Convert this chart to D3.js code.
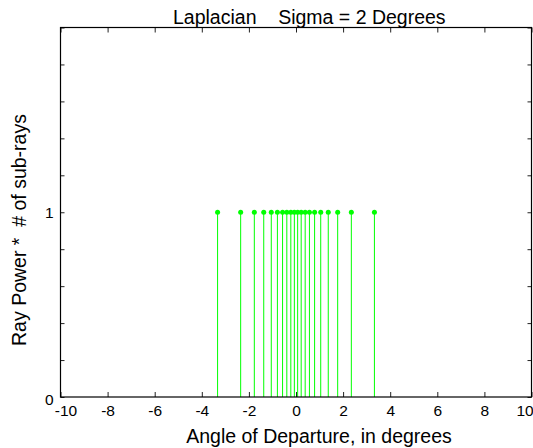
<!DOCTYPE html>
<html><head><meta charset="utf-8">
<script src="https://cdn.jsdelivr.net/npm/d3@7"></script>
<style>
body{margin:0;background:#fff;}
svg{display:block;font-family:"Liberation Sans",Arial,sans-serif;}
</style></head><body>
<svg id="c" width="533" height="448"></svg>
<script>
const angles = [-3.33, -2.35, -1.77, -1.37, -1.05, -0.79, -0.57, -0.39, -0.22, -0.07,
                 0.07, 0.22, 0.39, 0.57, 0.79, 1.05, 1.37, 1.77, 2.35, 3.33];
const powers = [1,1,1,1,1,1,1,1,1,1,1,1,1,1,1,1,1,1,1,1];
const xTicks = [-10,-8,-6,-4,-2,0,2,4,6,8,10];
const xTickLabels = ["-10","-8","-6","-4","-2","0","2","4","6","8","10"];
const yTicks = [0,0.2,0.4,0.6,0.8,1,1.2,1.4,1.6,1.8,2];
const yTickLabels = ["0","","","","","1","","","","",""];
const titleText = "Laplacian    Sigma = 2 Degrees";
const xLabel = "Angle of Departure, in degrees";
const yLabel = "Ray Power *  # of sub-rays";

const L=60.5, R=531.5, T=27.5, B=397;
const svg = d3.select("#c");
const x = d3.scaleLinear().domain([-10,10]).range([L,R]);
const y = d3.scaleLinear().domain([0,2]).range([B,T]);

// stems
const g = svg.append("g");
g.selectAll("line.stem").data(angles).join("line")
  .attr("x1",d=>x(d)).attr("x2",d=>x(d))
  .attr("y1",y(0)).attr("y2",(d,i)=>y(powers[i]))
  .attr("stroke","#00ff00").attr("stroke-width",1);
g.selectAll("circle").data(angles).join("circle")
  .attr("cx",d=>x(d)).attr("cy",(d,i)=>y(powers[i])).attr("r",2.5)
  .attr("fill","#00ff00");

// axes (ticks inward)
const tickLen = 5;
const xb = svg.append("g").attr("transform",`translate(0,${B})`)
  .call(d3.axisBottom(x).tickValues(xTicks).tickSize(-tickLen).tickPadding(8)
    .tickFormat((d,i)=>xTickLabels[i]));
const xt = svg.append("g").attr("transform",`translate(0,${T})`)
  .call(d3.axisTop(x).tickValues(xTicks).tickSize(-tickLen).tickFormat(""));
const yl = svg.append("g").attr("transform",`translate(${L},0)`)
  .call(d3.axisLeft(y).tickValues(yTicks).tickSize(-4).tickPadding(7)
    .tickFormat((d,i)=>yTickLabels[i]));
const yr = svg.append("g").attr("transform",`translate(${R},0)`)
  .call(d3.axisRight(y).tickValues(yTicks).tickSize(-4).tickFormat(""));
[xb,xt,yl,yr].forEach(a=>{
  a.select(".domain").remove();
  a.selectAll(".tick line").attr("stroke","#222").attr("stroke-width",1);
  a.selectAll("text").attr("fill","#000").style("font-size","15.5px")
   .style("font-family","'Liberation Sans',Arial,sans-serif");
});
xb.selectAll(".tick text").attr("dy","0.71em")
  .attr("dx",d=>d===-10?5:(d===10?-7:0));
yl.selectAll(".tick text").attr("dy",d=>d===0?"0.5em":"0.32em");

// box
svg.append("rect").attr("x",L).attr("y",T).attr("width",R-L).attr("height",B-T)
  .attr("fill","none").attr("stroke","#000").attr("stroke-width",1.2);

// labels
svg.append("text").attr("x",173).attr("y",24).style("white-space","pre")
  .style("font-size","19.5px").text(titleText);
svg.append("text").attr("x",319).attr("y",443).attr("text-anchor","middle")
  .style("font-size","19.5px").text(xLabel);
svg.append("text").attr("transform","translate(26,230) rotate(-90)")
  .attr("text-anchor","middle").style("white-space","pre")
  .style("font-size","19.5px").text(yLabel);
</script>
</body></html>
